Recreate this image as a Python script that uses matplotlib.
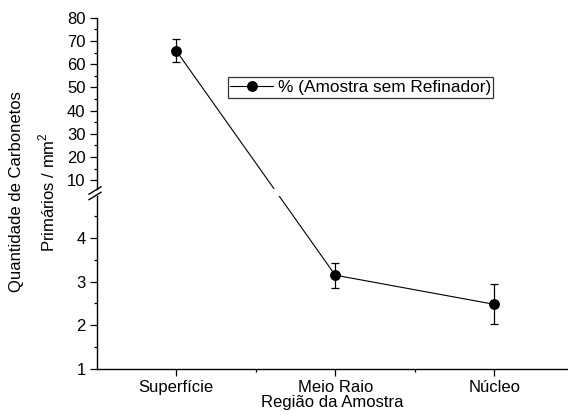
import numpy as np
import matplotlib
matplotlib.use('Agg')
import matplotlib.pyplot as plt
from matplotlib.lines import Line2D

plt.rcParams['font.family'] = ['Liberation Sans', 'DejaVu Sans']
plt.rcParams['mathtext.fontset'] = 'custom'
plt.rcParams['mathtext.rm'] = 'Liberation Sans'

# dados
regioes = ['Superfície', 'Meio Raio', 'Núcleo']
valores = [65.8, 3.15, 2.48]
erros = [4.9, 0.29, 0.46]
rotulo = '% (Amostra sem Refinador)'

W, H = 568, 416
fig = plt.figure(figsize=(W / 100, H / 100), dpi=100)

left = 96.7 / W
# eixo inferior (1 a 5) e superior (6.25 a 80), com quebra
ax_low = fig.add_axes([left, (H - 368.7) / H, 1 - left, (368.7 - 196) / H])
ax_up = fig.add_axes([left, (H - 189) / H, 1 - left, (189 - 17.7) / H])

x = np.arange(len(regioes))
xlim = (-0.5, 2.464)
fs = 12

for ax in (ax_low, ax_up):
    ax.set_xlim(*xlim)
    ax.errorbar(x, valores, yerr=erros, fmt='o', color='black', ms=6.8,
                capsize=3.2, elinewidth=0.9, capthick=0.9, zorder=3)
    ax.spines['right'].set_visible(False)
    ax.spines['top'].set_visible(False)
    ax.spines['left'].set_linewidth(1.0)
    ax.spines['bottom'].set_linewidth(1.0)
    ax.tick_params(direction='out', length=5, width=0.9, labelsize=fs, pad=3)
    ax.tick_params(which='minor', direction='out', length=2.5, width=0.9)
    ax.patch.set_alpha(0)

ax_low.set_ylim(1, 4.97)
ax_low.set_yticks([1, 2, 3, 4])
ax_low.set_yticks([1.5, 2.5, 3.5, 4.5], minor=True)
ax_low.set_xticks(x)
ax_low.set_xticklabels(regioes)
ax_low.set_xticks([0.5, 1.5], minor=True)
ax_low.tick_params(axis='x', pad=3)
ax_low.set_xlabel('Região da Amostra', fontsize=fs, labelpad=0)

ax_up.set_ylim(6.25, 80)
ax_up.set_yticks(np.arange(10, 81, 10))
ax_up.set_yticks(np.arange(15, 80, 10), minor=True)
ax_up.spines['bottom'].set_visible(False)
ax_up.tick_params(axis='x', which='both', bottom=False, labelbottom=False)

# linha de ligacao em coordenadas de tela (reta atraves da quebra)
for ax in (ax_low, ax_up):
    pts = []
    for xi, yi in zip(x, valores):
        src = ax_up if yi > 5 else ax_low
        disp = src.transData.transform((xi, yi))
        pts.append(ax.transData.inverted().transform(disp))
    pts = np.array(pts)
    ax.plot(pts[:, 0], pts[:, 1], color='black', lw=0.8, zorder=2)

# marcas de quebra
for yb in (190.5, 196):
    yf = (H - yb) / H
    fig.add_artist(Line2D([89 / W, 101 / W], [yf - 3.7 / H, yf + 3.7 / H],
                          color='black', lw=1.0))

# rotulo do eixo y
fig.text(17 / W, (H - 192) / H, 'Quantidade de Carbonetos', rotation=90,
         ha='center', va='center', fontsize=fs)
fig.text(47 / W, (H - 192) / H, 'Primários / mm$^{\\mathregular{2}}$', rotation=90,
         ha='center', va='center', fontsize=fs)

# legenda
h = Line2D([], [], color='black', marker='o', ms=6.8, lw=0.8)
leg = ax_up.legend([h], [rotulo], loc='upper left',
                   bbox_to_anchor=(227.7 / W, (H - 77.3) / H),
                   bbox_transform=fig.transFigure, fontsize=12.4, frameon=True,
                   fancybox=False, borderpad=0.15, borderaxespad=0,
                   handlelength=2.5, handletextpad=0.25)
leg.get_frame().set_edgecolor('black')
leg.get_frame().set_linewidth(0.9)

fig.savefig('out.png', dpi=100)
